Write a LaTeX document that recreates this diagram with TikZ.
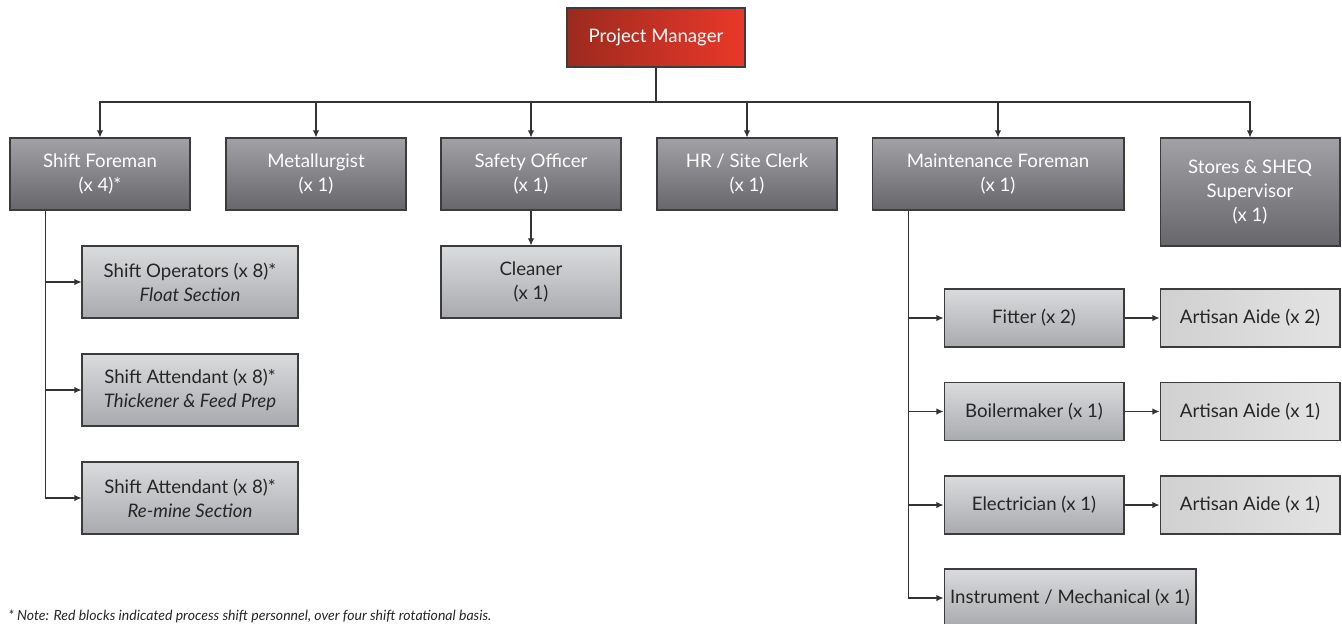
\documentclass[tikz,border=0pt]{standalone}
\usepackage{fontspec}
\setmainfont{Lato}
\usetikzlibrary{calc,positioning,arrows.meta,shapes}

\definecolor{boxline}{HTML}{3C3C3C}
\definecolor{linkcol}{HTML}{333333}
\definecolor{darktop}{HTML}{A2A2A6}
\definecolor{darkbot}{HTML}{66666B}
\definecolor{lighttop}{HTML}{DADBDD}
\definecolor{lightbot}{HTML}{A9AAAD}
\definecolor{aideleft}{HTML}{D0D0D0}
\definecolor{aideright}{HTML}{E4E4E4}
\definecolor{pmleft}{HTML}{9C2A1E}
\definecolor{pmmid}{HTML}{CF6148}
\definecolor{pmright}{HTML}{EA3829}

\tikzset{
	box/.style={draw=boxline,line width=0.6pt,align=center,inner sep=2pt,
		font=\fontsize{10.6}{13.8}\selectfont},
	headbox/.style={box,top color=darktop,bottom color=darkbot,text=white,
		minimum width=3.6cm,minimum height=1.44cm},
	staffbox/.style={box,top color=lighttop,bottom color=lightbot,text=black!85,
		minimum width=3.6cm,minimum height=1.44cm},
	aidebox/.style={box,left color=aideleft,middle color=white,right color=aideright,
		text=black!85,minimum width=3.6cm,minimum height=1.16cm},
	pmbox/.style={box,left color=pmleft,middle color=pmmid,right color=pmright,
		text=white,minimum width=3.56cm,minimum height=1.18cm},
	link/.style={draw=linkcol,line width=0.6pt,-{Latex[length=4pt,width=3.6pt]}}
}

\begin{document}
\begin{tikzpicture}[x=0.02cm,y=-0.02cm]
			\useasboundingbox (0,0) rectangle (1342,623);
			\clip (0,0) rectangle (1342,623);
			% manager
			\node[pmbox] (pm) at (656,37.5) {Project Manager};
			% first row
			\node[headbox] (sf) at (100,174) {Shift Foreman\\(x 4)*};
			\node[headbox] (met) at (316,174) {Metallurgist\\(x 1)};
			\node[headbox] (so) at (531,174) {Safety Officer\\(x 1)};
			\node[headbox] (hr) at (747,174) {HR / Site Clerk\\(x 1)};
			\node[headbox,minimum width=5.04cm] (mf) at (998,174) {Maintenance Foreman\\(x 1)};
			\node[headbox,minimum height=2.16cm] (st) at (1250,192) {Stores \& SHEQ\\Supervisor\\(x 1)};
			% shift crew
			\node[staffbox,minimum width=4.32cm] (op) at (190,282) {Shift Operators (x 8)*\\\textit{Float Section}};
			\node[staffbox,minimum width=4.32cm] (att1) at (190,390) {Shift Attendant (x 8)*\\\textit{Thickener \& Feed Prep}};
			\node[staffbox,minimum width=4.32cm] (att2) at (190,498) {Shift Attendant (x 8)*\\\textit{Re-mine Section}};
			\node[staffbox] (cl) at (531,282) {Cleaner\\(x 1)};
			% maintenance crew
			\node[staffbox,minimum height=1.16cm] (fit) at (1034,318) {Fitter (x 2)};
			\node[staffbox,minimum height=1.16cm] (boil) at (1034,411.5) {Boilermaker (x 1)};
			\node[staffbox,minimum height=1.16cm] (elec) at (1034,505) {Electrician (x 1)};
			\node[staffbox,minimum width=5.04cm,minimum height=1.16cm] (inst) at (1070,598) {Instrument / Mechanical (x 1)};
			\node[aidebox] (aide1) at (1250,318) {Artisan Aide (x 2)};
			\node[aidebox] (aide2) at (1250,411.5) {Artisan Aide (x 1)};
			\node[aidebox] (aide3) at (1250,505) {Artisan Aide (x 1)};
			% connectors
			\coordinate (bus) at (656,102);
			\foreach \n in {sf,met,so,hr,mf,st}
				\draw[link] (pm.south) -- (pm.south |- bus) -| (\n.north);
			\coordinate (sfdown) at ($(sf.south west)!0.2!(sf.south east)$);
			\foreach \n in {op,att1,att2}
				\draw[link] (sfdown) |- (\n.west);
			\draw[link] (so) -- (cl);
			\coordinate (mfdown) at ($(mf.south west)+(37,0)$);
			\foreach \n in {fit,boil,elec,inst}
				\draw[link] (mfdown) |- (\n.west);
			\draw[link] (fit) -- (aide1);
			\draw[link] (boil) -- (aide2);
			\draw[link] (elec) -- (aide3);
			% note
			\node[anchor=base west,inner sep=0pt,font=\fontsize{8}{9}\selectfont\itshape,text=black!85] (note) at (8,620)
				{* Note: Red blocks indicated process shift personnel, over four shift rotational basis.};
		\end{tikzpicture}
\end{document}
